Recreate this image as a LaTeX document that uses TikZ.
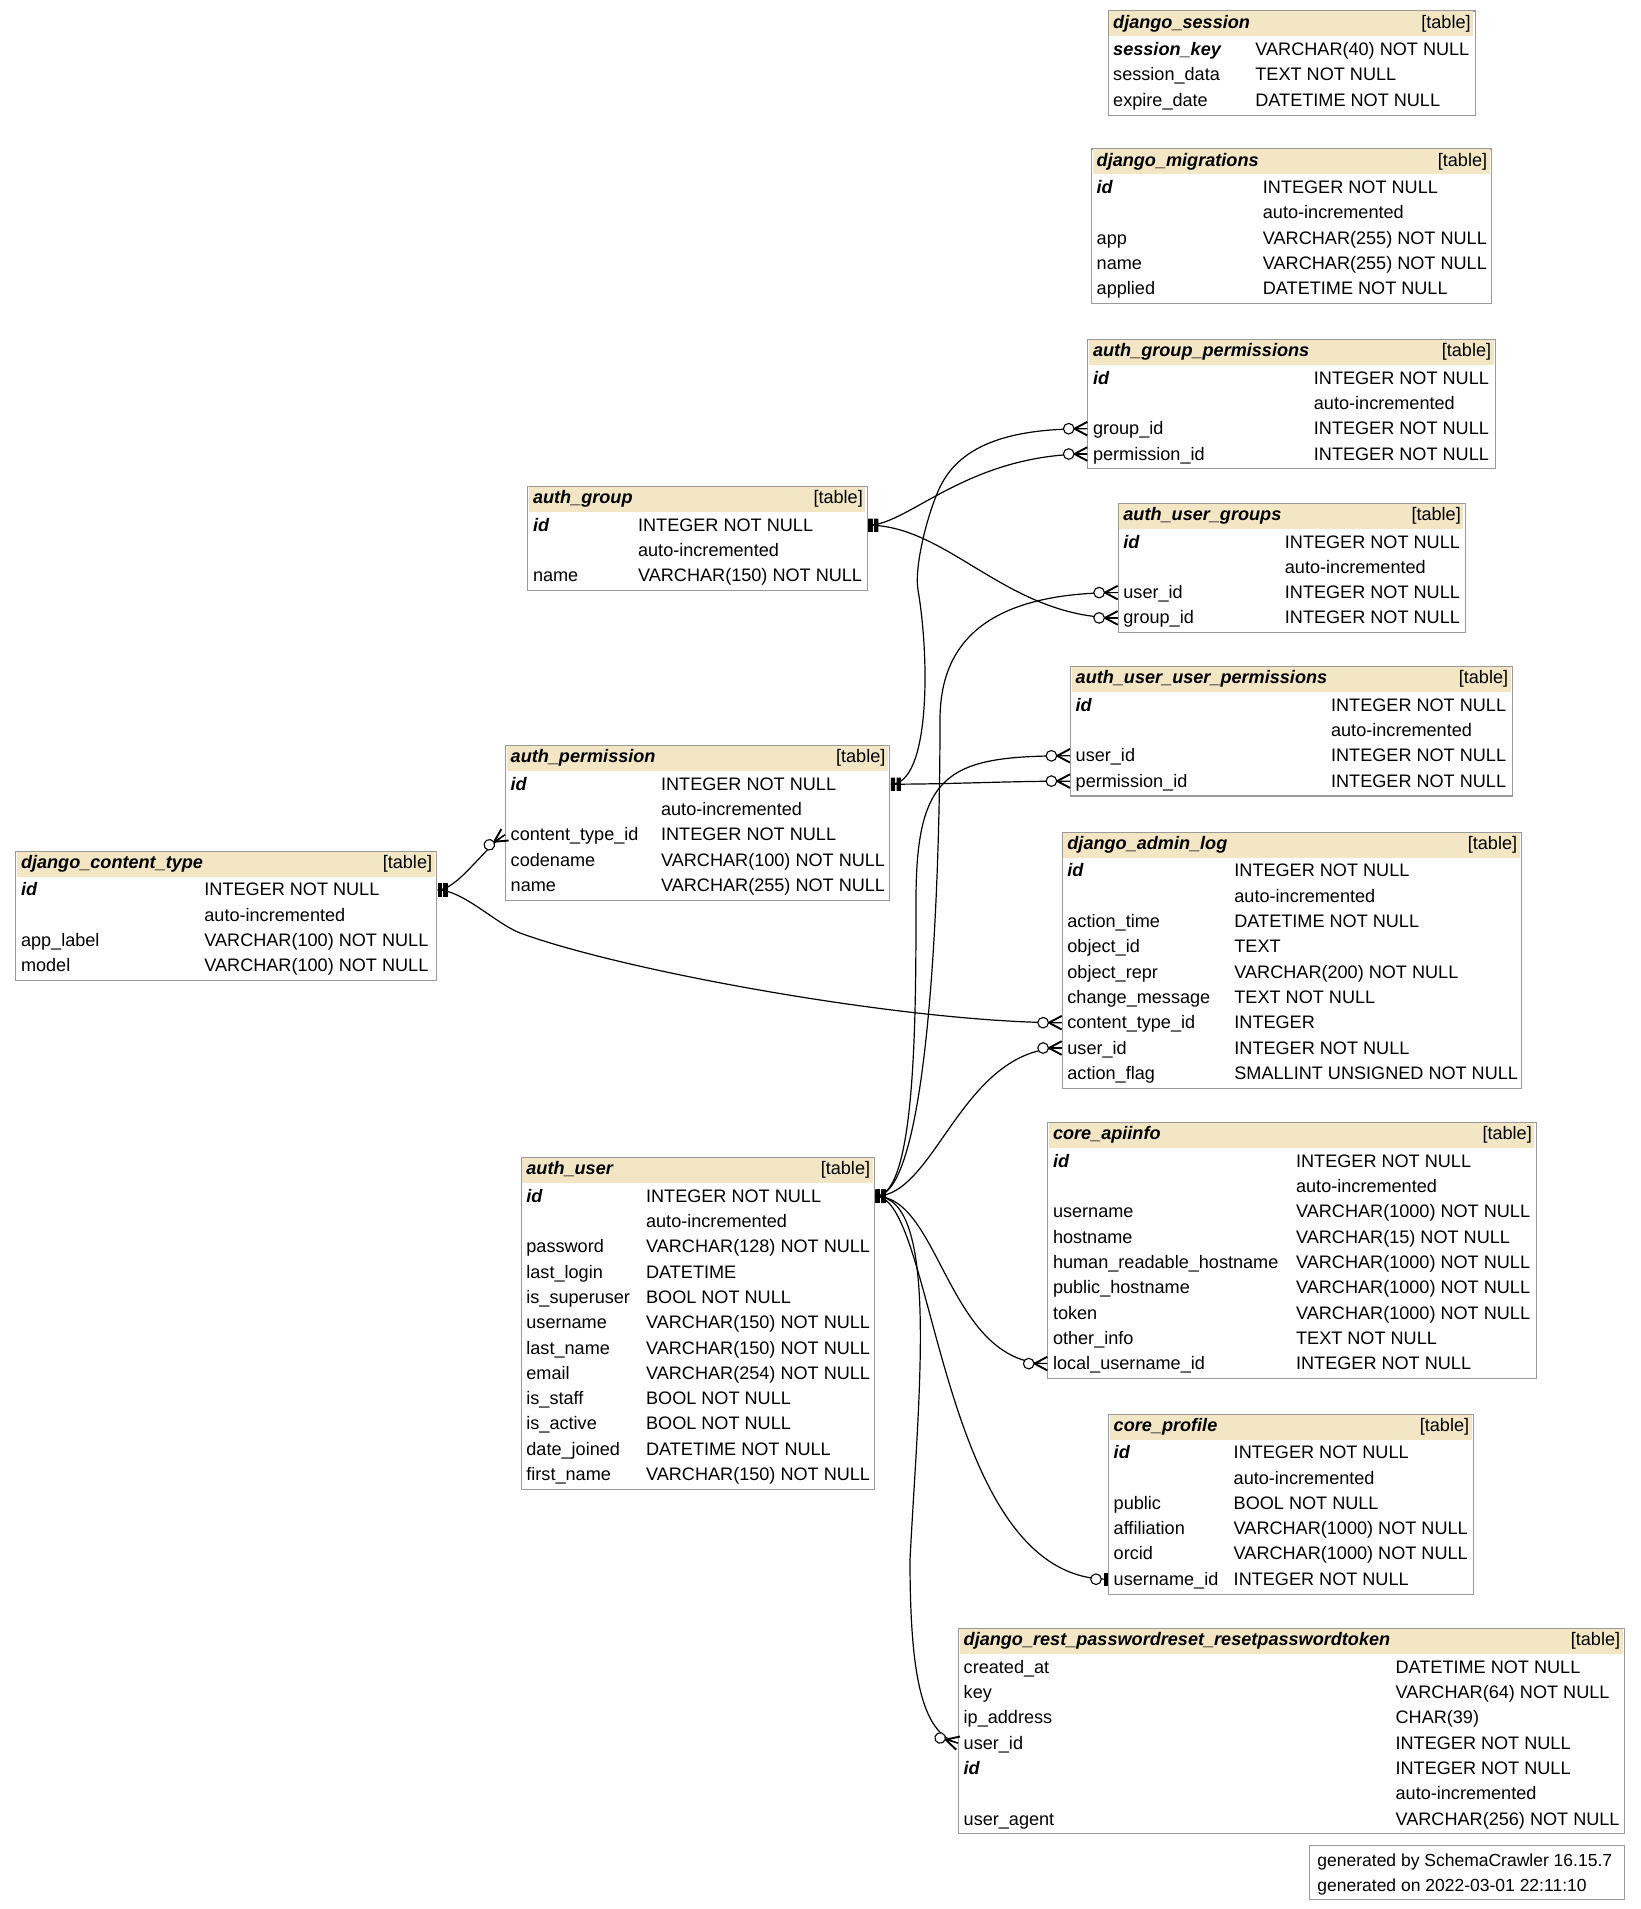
\documentclass[tikz,border=0pt]{standalone}
\usepackage{fontspec}
\setmainfont{Liberation Sans}
\usetikzlibrary{decorations.markings,calc}
\definecolor{hdr}{HTML}{F2E6C4}
\definecolor{bord}{HTML}{9A9A9A}
\newcommand\pkmark{\fill[black] (0pt,-3.3pt) rectangle (2.15pt,3.3pt); \fill[black] (2.85pt,-3.3pt) rectangle (5pt,3.3pt);}
\newcommand\crowmark{\draw[black,line width=0.95pt] (0pt,3.4pt) -- (-6.4pt,0pt) -- (0pt,-3.4pt); \draw[black,line width=0.6pt] (-6.4pt,0pt) -- (0pt,0pt); \draw[black,line width=0.55pt,fill=white] (-9.3pt,0pt) circle (2.65pt);}
\newcommand\zeroonemark{\fill[black] (-2.15pt,-3.3pt) rectangle (0pt,3.3pt); \draw[black,line width=0.55pt,fill=white] (-6pt,0pt) circle (2.65pt);}
\newcommand\crowat[2]{\begin{scope}[shift={#1},rotate=#2]\crowmark\end{scope}}
\newcommand\zeroat[2]{\begin{scope}[shift={#1},rotate=#2]\zeroonemark\end{scope}}
\tikzset{
  tblbox/.style={draw=bord, line width=0.55pt, inner sep=0pt, fill=white},
  txt/.style={inner sep=0pt, font=\fontsize{9.05}{10}\selectfont},
  pkrel/.style={line width=0.6pt, black, postaction={decorate, decoration={markings, mark=at position 0 with {\pkmark}}}},
}
% table: id, x0, y0, x1, rows, typeX, title
\newcommand\dbtbl[7]{%
  \def\dbid{#1}\def\dbx{#2}\def\dby{#3}\def\dbxr{#4}\def\dbc{#6}%
  \node[tblbox, anchor=north west, minimum width={(#4-#2)*0.5pt}, minimum height={(28.2+25.3*#5)*0.5pt}] (#1) at (#2,#3) {};
  \fill[hdr] ({#2+1.5},{#3+1}) rectangle ({#4-1.5},{#3+26});
  \node[txt, anchor=base west] (#1-title) at ({#2+5.3},{#3+17.6}) {\bfseries\itshape #7};
  \node[txt, anchor=base east] (#1-tag) at ({#4-3.5},{#3+17.6}) {[table]};
}
\newcommand\dbports[1]{%
  \coordinate (\dbid-l#1) at (\dbx,{\dby+13.9+25.3*#1});
  \coordinate (\dbid-r#1) at ({\dbxr+1.6},{\dby+13.9+25.3*#1});
}
\newcommand\dbrow[3]{%
  \node[txt, anchor=base west] (\dbid-n#1) at ({\dbx+5.3},{\dby+19.9+25.3*#1}) {#2};
  \node[txt, anchor=base west] (\dbid-t#1) at (\dbc,{\dby+19.9+25.3*#1}) {#3};
  \dbports{#1}
}
\newcommand\dbpk[3]{%
  \node[txt, anchor=base west] (\dbid-n#1) at ({\dbx+5.3},{\dby+19.9+25.3*#1}) {\bfseries\itshape #2};
  \node[txt, anchor=base west] (\dbid-t#1) at (\dbc,{\dby+19.9+25.3*#1}) {#3};
  \dbports{#1}
}
\newcommand\dbai[1]{%
  \node[txt, anchor=base west] (\dbid-t#1) at (\dbc,{\dby+19.9+25.3*#1}) {auto-incremented};
}
\begin{document}
\begin{tikzpicture}[x=0.5pt,y=-0.5pt]
\useasboundingbox (0,0) rectangle (1640,1909);
\fill[white] (0,0) rectangle (1640,1909);

\dbtbl{ds}{1107.5}{10.5}{1474.5}{3}{1255}{django\_session}
\dbpk{1}{session\_key}{VARCHAR(40) NOT NULL}
\dbrow{2}{session\_data}{TEXT NOT NULL}
\dbrow{3}{expire\_date}{DATETIME NOT NULL}

\dbtbl{dm}{1091}{148.5}{1491}{5}{1262.5}{django\_migrations}
\dbpk{1}{id}{INTEGER NOT NULL}
\dbai{2}
\dbrow{3}{app}{VARCHAR(255) NOT NULL}
\dbrow{4}{name}{VARCHAR(255) NOT NULL}
\dbrow{5}{applied}{DATETIME NOT NULL}

\dbtbl{agp}{1087.3}{338.9}{1495}{4}{1313.5}{auth\_group\_permissions}
\dbpk{1}{id}{INTEGER NOT NULL}
\dbai{2}
\dbrow{3}{group\_id}{INTEGER NOT NULL}
\dbrow{4}{permission\_id}{INTEGER NOT NULL}

\dbtbl{ag}{527.3}{486}{866.7}{3}{637.7}{auth\_group}
\dbpk{1}{id}{INTEGER NOT NULL}
\dbai{2}
\dbrow{3}{name}{VARCHAR(150) NOT NULL}

\dbtbl{aug}{1117.7}{502.8}{1464.7}{4}{1284.5}{auth\_user\_groups}
\dbpk{1}{id}{INTEGER NOT NULL}
\dbai{2}
\dbrow{3}{user\_id}{INTEGER NOT NULL}
\dbrow{4}{group\_id}{INTEGER NOT NULL}

\dbtbl{auup}{1070}{666}{1512}{4}{1330.7}{auth\_user\_user\_permissions}
\dbpk{1}{id}{INTEGER NOT NULL}
\dbai{2}
\dbrow{3}{user\_id}{INTEGER NOT NULL}
\dbrow{4}{permission\_id}{INTEGER NOT NULL}

\dbtbl{ap}{505}{745}{889.3}{5}{660.7}{auth\_permission}
\dbpk{1}{id}{INTEGER NOT NULL}
\dbai{2}
\dbrow{3}{content\_type\_id}{INTEGER NOT NULL}
\dbrow{4}{codename}{VARCHAR(100) NOT NULL}
\dbrow{5}{name}{VARCHAR(255) NOT NULL}

\dbtbl{ct}{15.3}{850.7}{436}{4}{204}{django\_content\_type}
\dbpk{1}{id}{INTEGER NOT NULL}
\dbai{2}
\dbrow{3}{app\_label}{VARCHAR(100) NOT NULL}
\dbrow{4}{model}{VARCHAR(100) NOT NULL}

\dbtbl{dal}{1061.7}{831.7}{1521}{9}{1234}{django\_admin\_log}
\dbpk{1}{id}{INTEGER NOT NULL}
\dbai{2}
\dbrow{3}{action\_time}{DATETIME NOT NULL}
\dbrow{4}{object\_id}{TEXT}
\dbrow{5}{object\_repr}{VARCHAR(200) NOT NULL}
\dbrow{6}{change\_message}{TEXT NOT NULL}
\dbrow{7}{content\_type\_id}{INTEGER}
\dbrow{8}{user\_id}{INTEGER NOT NULL}
\dbrow{9}{action\_flag}{SMALLINT UNSIGNED NOT NULL}

\dbtbl{au}{520.7}{1157}{874}{12}{645.7}{auth\_user}
\dbpk{1}{id}{INTEGER NOT NULL}
\dbai{2}
\dbrow{3}{password}{VARCHAR(128) NOT NULL}
\dbrow{4}{last\_login}{DATETIME}
\dbrow{5}{is\_superuser}{BOOL NOT NULL}
\dbrow{6}{username}{VARCHAR(150) NOT NULL}
\dbrow{7}{last\_name}{VARCHAR(150) NOT NULL}
\dbrow{8}{email}{VARCHAR(254) NOT NULL}
\dbrow{9}{is\_staff}{BOOL NOT NULL}
\dbrow{10}{is\_active}{BOOL NOT NULL}
\dbrow{11}{date\_joined}{DATETIME NOT NULL}
\dbrow{12}{first\_name}{VARCHAR(150) NOT NULL}

\dbtbl{ai}{1047.3}{1122}{1535.7}{9}{1295.7}{core\_apiinfo}
\dbpk{1}{id}{INTEGER NOT NULL}
\dbai{2}
\dbrow{3}{username}{VARCHAR(1000) NOT NULL}
\dbrow{4}{hostname}{VARCHAR(15) NOT NULL}
\dbrow{5}{human\_readable\_hostname}{VARCHAR(1000) NOT NULL}
\dbrow{6}{public\_hostname}{VARCHAR(1000) NOT NULL}
\dbrow{7}{token}{VARCHAR(1000) NOT NULL}
\dbrow{8}{other\_info}{TEXT NOT NULL}
\dbrow{9}{local\_username\_id}{INTEGER NOT NULL}

\dbtbl{cp}{1108}{1413.5}{1473}{6}{1233.3}{core\_profile}
\dbpk{1}{id}{INTEGER NOT NULL}
\dbai{2}
\dbrow{3}{public}{BOOL NOT NULL}
\dbrow{4}{affiliation}{VARCHAR(1000) NOT NULL}
\dbrow{5}{orcid}{VARCHAR(1000) NOT NULL}
\dbrow{6}{username\_id}{INTEGER NOT NULL}

\dbtbl{tok}{958}{1628}{1624}{7}{1395.2}{django\_rest\_passwordreset\_resetpasswordtoken}
\dbrow{1}{created\_at}{DATETIME NOT NULL}
\dbrow{2}{key}{VARCHAR(64) NOT NULL}
\dbrow{3}{ip\_address}{CHAR(39)}
\dbrow{4}{user\_id}{INTEGER NOT NULL}
\dbpk{5}{id}{INTEGER NOT NULL}
\dbai{6}
\dbrow{7}{user\_agent}{VARCHAR(256) NOT NULL}

% footer
\node[tblbox, anchor=north west, minimum width={(1624-1309)*0.5pt}, minimum height={(1899-1845)*0.5pt}] (footer) at (1309,1845) {};
\node[txt, anchor=base west, font=\fontsize{8.75}{10}\selectfont] (footer-1) at (1317,1866.7) {generated by SchemaCrawler 16.15.7};
\node[txt, anchor=base west, font=\fontsize{8.75}{10}\selectfont] (footer-2) at (1317,1891.7) {generated on 2022-03-01 22:11:10};

% ---- relationships ----
% auth_group
\draw[pkrel] (ag-r1) .. controls +(40,0) and +(-120,0) .. (agp-l4);
\draw[pkrel] (ag-r1) .. controls +(80,0) and +(-110,0) .. (aug-l4);
% auth_permission
\draw[pkrel] (ap-r1) .. controls +(60,0) and +(-60,0) .. (auup-l4);
\coordinate (w1) at (918,590);
\coordinate (w1b) at (940,487);
\draw[pkrel] (ap-r1) .. controls +(39,0) and +(12,70) .. (w1) .. controls +(-4,-24) and +(-12,25) .. (w1b) .. controls +(24,-50) and +(-60,0) .. (agp-l3);
% django_content_type
\draw[pkrel] (ct-r1) .. controls +(20,0) and +(-22,14) .. (ap-l3);
\coordinate (w2) at (520,933);
\draw[pkrel] (ct-r1) .. controls +(25,0) and +(-25,-10) .. (w2) .. controls +(110,40) and +(-150,0) .. (dal-l7);
% auth_user
\coordinate (w3) at (940,720);
\draw[pkrel] (au-r1) .. controls +(55,0) and +(0,150) .. (w3) .. controls +(0,-70) and +(-140,0) .. (aug-l3);
\coordinate (w4) at (916,900);
\draw[pkrel] (au-r1) .. controls +(40,0) and +(0,120) .. (w4) .. controls +(0,-130) and +(-120,0) .. (auup-l3);
\draw[pkrel] (au-r1) .. controls +(60,0) and +(-100,0) .. (dal-l8);
\draw[pkrel] (au-r1) .. controls +(65,0) and +(-100,0) .. (ai-l9);
\draw[pkrel] (au-r1) .. controls +(60,0) and +(-170,0) .. (cp-l6);
\coordinate (w5) at (910,1560);
\draw[pkrel] (au-r1) .. controls +(65,0) and +(8,-160) .. (w5) .. controls +(0,120) and +(-35,-10) .. (tok-l4);

% ---- end markers ----
\crowat{(agp-l3)}{0}
\crowat{(agp-l4)}{0}
\crowat{(aug-l3)}{0}
\crowat{(aug-l4)}{0}
\crowat{(auup-l3)}{0}
\crowat{(auup-l4)}{0}
\crowat{(ap-l3)}{32.5}
\crowat{(dal-l7)}{0}
\crowat{(dal-l8)}{0}
\crowat{(ai-l9)}{0}
\zeroat{(cp-l6)}{0}
\crowat{(tok-l4)}{-16}
\end{tikzpicture}
\end{document}
